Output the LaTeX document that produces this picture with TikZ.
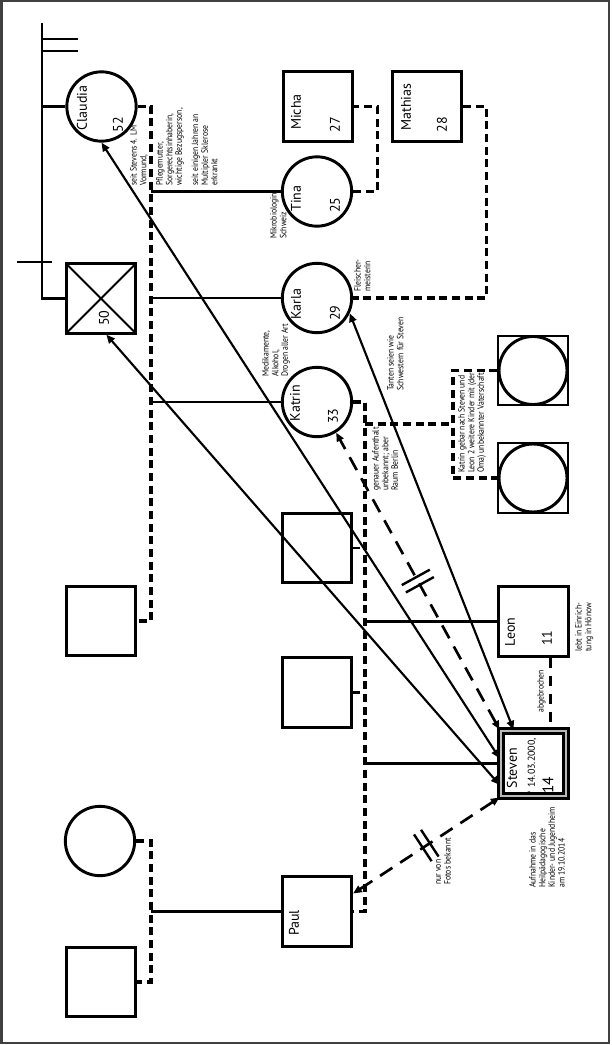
\documentclass[tikz,border=0pt]{standalone}
\usepackage{fontspec}
\setmainfont{PT Sans}
\newfontfamily\notizfont[FakeStretch=0.85]{PT Sans}
\usetikzlibrary{arrows.meta}

\colorlet{gnLine}{black}
\colorlet{gnRand}{black!75}

\newcommand{\bruchstriche}{\rule[-12pt]{1.8pt}{24pt}\hspace{4.5pt}\rule[-12pt]{1.8pt}{24pt}}

\tikzset{
  person/.style={draw=gnLine, line width=2.2pt, minimum size=52pt, inner sep=0pt},
  mann/.style={person, rectangle},
  frau/.style={person, circle},
  tot/.style={mann, path picture={\draw[line width=1.5pt]
      (path picture bounding box.north west) -- (path picture bounding box.south east)
      (path picture bounding box.north east) -- (path picture bounding box.south west);}},
  unbekannt/.style={mann, line width=1.6pt, path picture={\draw[line width=2.2pt]
      (path picture bounding box.center) circle[radius=25.5pt];}},
  klient/.style={mann, minimum size=49pt, line width=2pt, double=gray!55, double distance=1.6pt},
  rufname/.style={rotate=90, inner sep=0pt, font=\fontsize{10.5}{12}\selectfont},
  notiz/.style={rotate=90, anchor=north west, align=left, inner sep=0pt,
      font=\notizfont\fontsize{6.8}{7.2}\selectfont},
  linie/.style={line width=2pt},
  partner/.style={line width=2.4pt, dash pattern=on 6pt off 3.5pt},
  abbruch/.style={line width=2.4pt, dash pattern=on 7.5pt off 6pt},
  pfeil/.style={line width=1.6pt, {Triangle[length=6.5pt,width=5.5pt]}-{Triangle[length=6.5pt,width=5.5pt]}},
  fernpfeil/.style={pfeil, line width=2pt, dash pattern=on 11pt off 7pt},
  bruch/.style={sloped, inner sep=0pt, outer sep=0pt}
}

\begin{document}
\begin{tikzpicture}[x=0.75pt, y=-0.75pt]
  \useasboundingbox (0,0) rectangle (611,1045);
  \draw[gnRand, line width=1.5pt] (1.5,1.5) rectangle (608.5,1043);

  \coordinate (stamm) at (42,23);
  \coordinate (linieA) at (151,106);
  \coordinate (linieB) at (365,402);
  \coordinate (linieC) at (151,841);
  \coordinate (klammer) at (453,424);

  \node[frau] (claudia) at (101.5,106.5) {};
  \node[tot] (opa) at (101,298.5) {};
  \node[mann] (micha) at (318,106.5) {};
  \node[mann] (mathias) at (427,106.5) {};
  \node[frau] (tina) at (317,191.5) {};
  \node[frau] (karla) at (317,298) {};
  \node[frau] (katrin) at (317,402) {};
  \node[unbekannt] (kindA) at (533,370.5) {};
  \node[unbekannt] (kindB) at (533,478) {};
  \node[mann] (mannA) at (317,548) {};
  \node[mann] (mannB) at (317,692.5) {};
  \node[mann] (mannC) at (101,621) {};
  \node[mann] (leon) at (533.5,621.5) {};
  \node[klient] (steven) at (533.5,763.5) {};
  \node[frau] (paulMutter) at (100,841) {};
  \node[mann] (paul) at (317,911.5) {};
  \node[mann] (paulVater) at (101,982) {};

  \node[rufname] (tClaudia) at (82,108) {Claudia};
  \node[rufname] (aClaudia) at (118,125) {52};
  \node[rufname] (aOpa) at (104,318) {50};
  \node[rufname] (tMicha) at (296,112) {Micha};
  \node[rufname] (aMicha) at (335,125) {27};
  \node[rufname] (tMathias) at (406,107) {Mathias};
  \node[rufname] (aMathias) at (442,125) {28};
  \node[rufname] (tTina) at (296,198.5) {Tina};
  \node[rufname] (aTina) at (335,205) {25};
  \node[rufname] (tKarla) at (296,304) {Karla};
  \node[rufname] (aKarla) at (335,313) {29};
  \node[rufname] (tKatrin) at (295,403) {Katrin};
  \node[rufname] (aKatrin) at (333,416) {33};
  \node[rufname] (tLeon) at (510,632) {Leon};
  \node[rufname] (aLeon) at (547,638) {11};
  \node[rufname] (tSteven) at (512,768) {Steven};
  \node[rufname, font=\fontsize{7.5}{9}\selectfont] (gSteven) at (532,766) {* 14.03.2000,};
  \node[rufname, font=\fontsize{11.5}{13}\selectfont] (aSteven) at (548,785) {14};
  \node[rufname] (tPaul) at (294,923) {Paul};

  \draw[linie] (stamm) |- (opa.west);
  \draw[linie] (claudia.west) -- (claudia.west -| stamm);
  \draw[linie] (42,39) -- ++(36,0);
  \draw[linie] (42,51) -- ++(36,0);
  \draw[linie] (17,262) -- (52,262);

  \draw[partner] (claudia.east) -- (claudia.east -| linieA) -- (mannC.east -| linieA) -- (mannC.east);
  \draw[linie] (tina.west) -- (tina.west -| linieA);
  \draw[linie] (karla.west) -- (karla.west -| linieA);
  \draw[linie] (katrin.west) -- (katrin.west -| linieA);

  \draw[partner] (tina.east) -- ++(24,0) |- (micha.east);
  \draw[partner] (mathias.east) -- ++(23,0) |- (karla.east);

  \draw[partner] (katrin.east) -- (katrin.east -| linieB) -- (paul.east -| linieB) -- (paul.east);
  \draw[linie] (mannA.east) -- ++(7,0);
  \draw[linie] (mannB.east) -- ++(7,0);
  \draw[linie] (leon.west) -- (leon.west -| linieB);
  \draw[linie] (steven.west) -- (steven.west -| linieB);
  \draw[partner] (klammer -| linieB) -- (klammer);
  \draw[partner] (kindA.west) -| (klammer) |- (kindB.west);

  \draw[partner] (paulMutter.east) -- (paulMutter.east -| linieC) -- (paulVater.east -| linieC) -- (paulVater.east);
  \draw[linie] (paul.west) -- (paul.west -| linieC);
  \draw[abbruch] ([xshift=13pt]leon.south) -- ([xshift=13pt]steven.north);

  \draw[pfeil] ([yshift=4pt]steven.west) -- (claudia.south);
  \draw[pfeil] ([yshift=-16pt]steven.west) -- ([xshift=4pt]opa.south);
  \draw[pfeil] ([xshift=-15pt]steven.north) -- (karla.-25);
  \draw[fernpfeil] (steven.north west) -- (katrin.-58)
        node[bruch, midway] (bruchKatrin) {\bruchstriche};
  \draw[fernpfeil] (steven.south west) -- ([yshift=13.5pt]paul.east)
        node[bruch, midway] (bruchPaul) {\bruchstriche};

  \node[notiz] (nVormund) at (130,186) {seit Stevens 4. LM\\Vormund,};
  \node[notiz] (nClaudia) at (156,186) {Pflegemutter,\\Sorgerechtsinhaberin,\\wichtige Bezugsperson,\\[5pt]seit einigen Jahren an\\Multipler Sklerose\\erkrankt};
  \node[notiz] (nTina) at (270,239) {Mikrobiologin,\\Schweiz};
  \node[notiz] (nKarla) at (354,292) {Fleischer-\\meisterin};
  \node[notiz] (nKatrin) at (262,377) {Medikamente,\\Alkohol,\\Drogen aller Art};
  \node[notiz] (nTanten) at (387,391) {Tanten seien wie\\Schwestern für Steven};
  \node[notiz] (nOrt) at (372,491) {genauer Aufenthalt\\unbekannt; aber\\Raum Berlin};
  \node[notiz] (nKinder) at (458,473) {Katrin gebar nach Steven und\\Leon 2 weitere Kinder mit (der\\Oma) unbekannter Vaterschaft};
  \node[notiz] (nLeon) at (575,652) {lebt in Einrich-\\tung in Hönow};
  \node[notiz] (nAbbruch) at (537,713) {abgebrochen};
  \node[notiz] (nFotos) at (436,885) {nur von\\Fotos bekannt};
  \node[notiz] (nHeim) at (529,888) {Aufnahme in das\\Heilpädagogische\\Kinder- und Jugendheim\\am 19.10.2014};
\end{tikzpicture}
\end{document}
